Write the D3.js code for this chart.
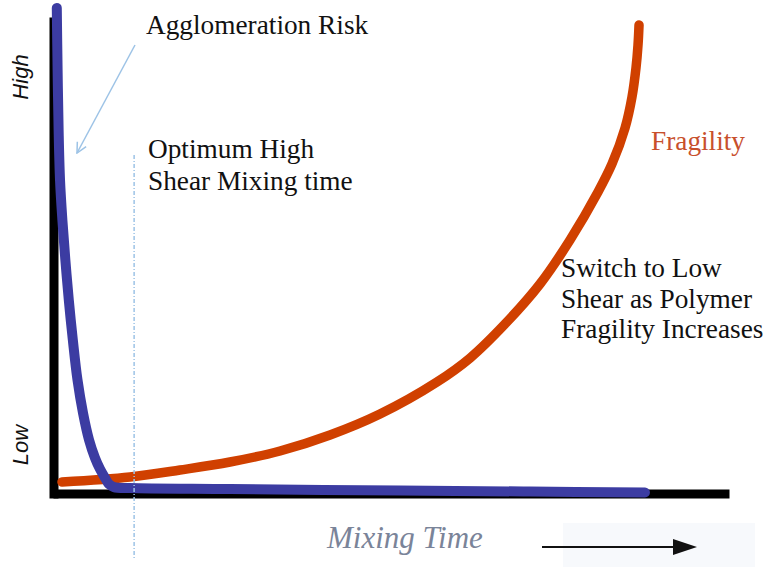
<!DOCTYPE html>
<html>
<head>
<meta charset="utf-8">
<script src="https://cdn.jsdelivr.net/npm/d3@7"></script>
<style>
  body { margin: 0; background: #fff; }
  text { font-family: "Liberation Serif", "Times New Roman", serif; }
</style>
</head>
<body>
<script>
// conceptual curves, time and level both on a 0-100 scale
var agglomTime  = [0.56, 0.68, 0.83, 1.04, 1.39, 1.83, 2.34, 2.93, 3.62, 4.44, 5.33, 6.21, 6.95, 7.69, 8.28, 9.02, 11.39, 26.18, 51.33, 70.56, 87.57];
var agglomLevel = [99.4, 86.7, 74.4, 64.1, 55.9, 47.7, 39.5, 31.4, 23.2, 16.4, 10.9, 7.2, 4.9, 3.1, 1.8, 1.2, 1.0, 0.8, 0.5, 0.3, 0.1];

var fragTime  = [1.33, 11.39, 18.79, 26.18, 33.58, 40.98, 48.37, 56.80, 61.69, 66.86, 72.04, 76.48, 80.62, 82.69, 84.62, 85.65, 86.24, 86.54, 86.69];
var fragLevel = [2.25, 3.28, 4.71, 6.35, 8.61, 11.89, 16.19, 22.75, 27.66, 34.63, 42.83, 51.84, 61.68, 67.42, 74.80, 81.15, 87.09, 91.80, 95.90];

var optimumTime = 12;

var yLabels = ['High', 'Low'];
var xLabel = 'Mixing Time';

var width = 765,
    height = 567;

var svg = d3.select('body')
    .append('svg')
    .attr('width', width)
    .attr('height', height)

var xScale = d3.scaleLinear()
    .domain([0, 100])
    .range([53, 729])

var yScale = d3.scaleLinear()
    .domain([0, 100])
    .range([493, 5])

var agglom = agglomTime.map((t, i) => ({t: t, v: agglomLevel[i]}))
var frag = fragTime.map((t, i) => ({t: t, v: fragLevel[i]}))

// thick black axes, no ticks
var xAxis = d3.axisBottom(xScale).tickValues([]).tickSizeOuter(0)
var yAxis = d3.axisLeft(yScale.copy().domain([-1, 97.5]).range([498, 17])).tickValues([]).tickSizeOuter(0)

svg.append('g')
    .attr('transform', 'translate(0, 493.5)')
    .call(xAxis)
    .select('.domain')
    .attr('stroke', '#000')
    .attr('stroke-width', 9)

svg.append('g')
    .attr('transform', 'translate(53.5, 0)')
    .call(yAxis)
    .select('.domain')
    .attr('stroke', '#000')
    .attr('stroke-width', 9)

var line = d3.line()
    .x(d => xScale(d.t))
    .y(d => yScale(d.v))
    .curve(d3.curveCatmullRom.alpha(0.5))

svg.append('path')
    .attr('d', line(frag))
    .attr('fill', 'none')
    .attr('stroke', '#d04000')
    .attr('stroke-width', 9.5)
    .attr('stroke-linecap', 'round')

svg.append('path')
    .attr('d', line(agglom))
    .attr('fill', 'none')
    .attr('stroke', '#3c3ca2')
    .attr('stroke-width', 10)
    .attr('stroke-linecap', 'round')

// optimum mixing time marker
svg.append('line')
    .attr('x1', xScale(optimumTime))
    .attr('x2', xScale(optimumTime))
    .attr('y1', 155)
    .attr('y2', 558)
    .attr('stroke', '#9dc3e6')
    .attr('stroke-width', 1.5)
    .attr('stroke-dasharray', '4,2,1,2')

// pointer to the agglomeration curve
var defs = svg.append('defs')
defs.append('marker')
    .attr('id', 'vhead')
    .attr('viewBox', '0 0 12 12')
    .attr('refX', 11)
    .attr('refY', 6)
    .attr('markerWidth', 12)
    .attr('markerHeight', 12)
    .attr('markerUnits', 'userSpaceOnUse')
    .attr('orient', 'auto')
    .append('path')
    .attr('d', 'M1,1L11,6L1,11')
    .attr('fill', 'none')
    .attr('stroke', '#9dc3e6')
    .attr('stroke-width', 1.5)

svg.append('line')
    .attr('x1', 135)
    .attr('y1', 45)
    .attr('x2', 77)
    .attr('y2', 153)
    .attr('stroke', '#9dc3e6')
    .attr('stroke-width', 1.5)
    .attr('marker-end', 'url(#vhead)')

// labels
var fs = 27.3

svg.append('text')
    .attr('x', 146).attr('y', 34)
    .attr('font-size', fs)
    .attr('fill', '#111')
    .text('Agglomeration Risk')

svg.append('text')
    .attr('x', 148).attr('y', 158)
    .attr('font-size', fs)
    .attr('fill', '#111')
    .selectAll('tspan')
    .data(['Optimum High', 'Shear Mixing time'])
    .join('tspan')
    .attr('x', 148)
    .attr('dy', (d, i) => i ? 32 : 0)
    .text(d => d)

svg.append('text')
    .attr('x', 651).attr('y', 150)
    .attr('font-size', fs)
    .attr('fill', '#c8502c')
    .text('Fragility')

svg.append('text')
    .attr('x', 561).attr('y', 277)
    .attr('font-size', fs)
    .attr('fill', '#111')
    .selectAll('tspan')
    .data(['Switch to Low', 'Shear as Polymer', 'Fragility Increases'])
    .join('tspan')
    .attr('x', 561)
    .attr('dy', (d, i) => i ? 30.5 : 0)
    .text(d => d)

svg.selectAll('.ylab')
    .data(yLabels)
    .join('text')
    .attr('class', 'ylab')
    .attr('transform', (d, i) => `translate(28, ${i ? 445 : 77}) rotate(-90)`)
    .attr('text-anchor', 'middle')
    .style('font-family', '"Liberation Sans", Arial, sans-serif')
    .style('font-style', 'italic')
    .style('font-size', '22px')
    .attr('fill', '#111')
    .text(d => d)

// x axis title and direction arrow
svg.append('rect')
    .attr('x', 563).attr('y', 523)
    .attr('width', 192).attr('height', 44)
    .attr('fill', '#f7f9fc')

svg.append('text')
    .attr('x', 327).attr('y', 548)
    .attr('font-size', 31)
    .attr('font-style', 'italic')
    .attr('fill', '#7a8499')
    .text(xLabel)

svg.append('line')
    .attr('x1', 542).attr('y1', 547)
    .attr('x2', 675).attr('y2', 547)
    .attr('stroke', '#111')
    .attr('stroke-width', 2)

svg.append('path')
    .attr('d', 'M673,539L697,547L673,555Z')
    .attr('fill', '#111')
</script>
</body>
</html>
